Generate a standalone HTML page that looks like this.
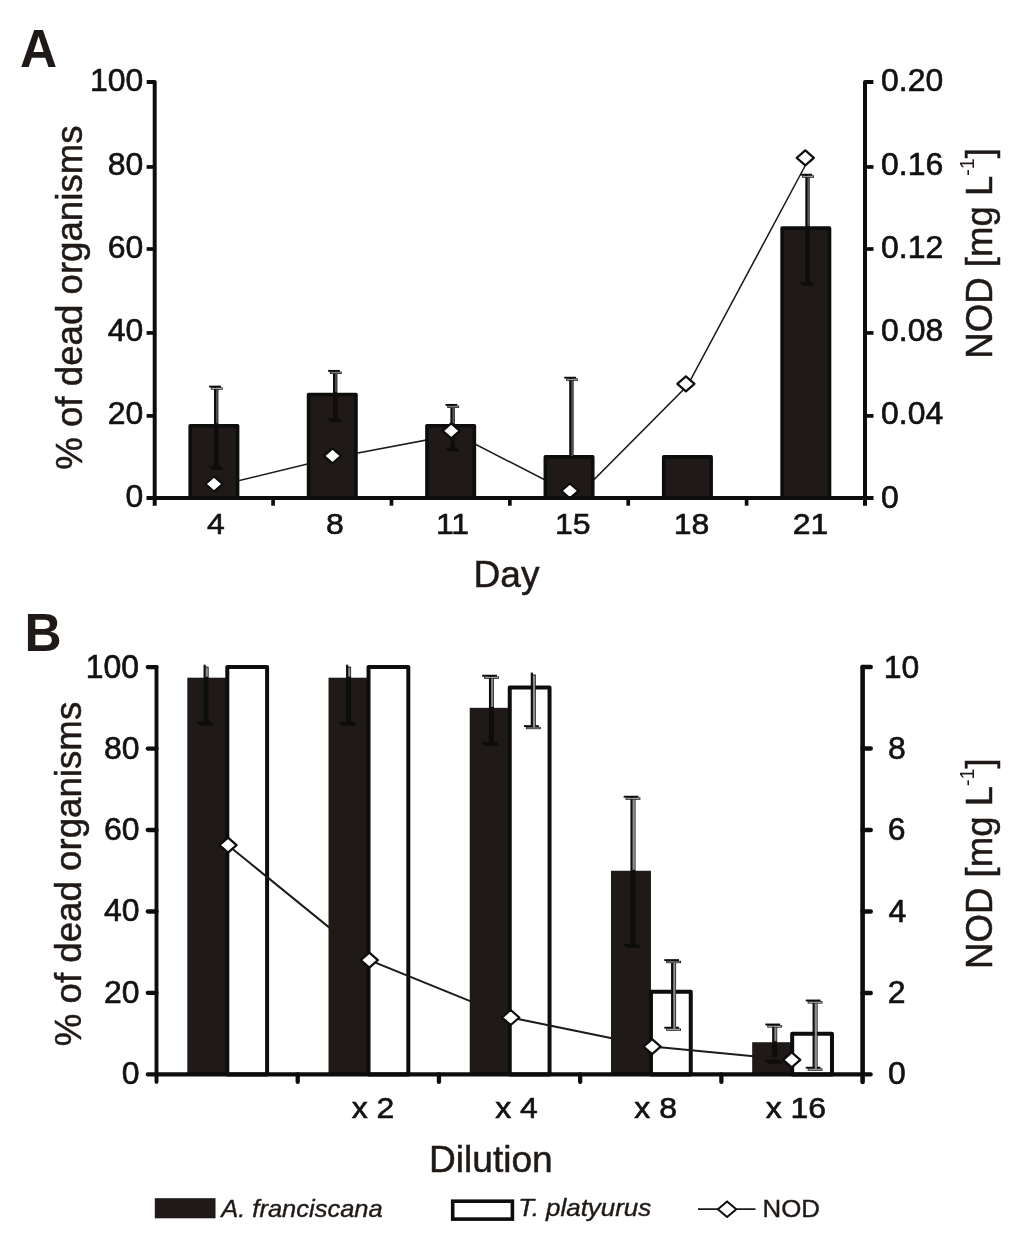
<!DOCTYPE html>
<html lang="en"><head><meta charset="utf-8"><title>Figure: mortality and NOD concentration</title>
<style>
html,body{margin:0;padding:0;background:#fff;}
body{width:1024px;height:1243px;overflow:hidden;font-family:'Liberation Sans', sans-serif;}
#fig{position:absolute;left:0;top:0;width:1024px;height:1243px;will-change:transform;}
svg{display:block;font-family:'Liberation Sans', sans-serif;}
text{white-space:pre;}
</style></head>
<body>
<div id="fig">
<svg width="1024" height="1243" viewBox="0 0 1024 1243" role="img" aria-label="Bar charts of percent dead organisms with NOD concentration line">
<polyline points="215.6,486.3 334.1,457.5 456.2,434.4 577.2,496.5 687.5,385.6 806.9,162.5" fill="none" stroke="#1f1a17" stroke-width="1.55"/>
<rect x="190.19" y="425.72" width="47.4" height="72.28" fill="#1f1a17" stroke="#0d0d0e" stroke-width="3.6" stroke-linejoin="round"/>
<rect x="308.57" y="394.52" width="47.4" height="103.48" fill="#1f1a17" stroke="#0d0d0e" stroke-width="3.6" stroke-linejoin="round"/>
<rect x="426.96" y="425.72" width="47.4" height="72.28" fill="#1f1a17" stroke="#0d0d0e" stroke-width="3.6" stroke-linejoin="round"/>
<rect x="545.34" y="456.91" width="47.4" height="41.09" fill="#1f1a17" stroke="#0d0d0e" stroke-width="3.6" stroke-linejoin="round"/>
<rect x="663.72" y="456.91" width="47.4" height="41.09" fill="#1f1a17" stroke="#0d0d0e" stroke-width="3.6" stroke-linejoin="round"/>
<rect x="782.11" y="228.17" width="47.4" height="269.83" fill="#1f1a17" stroke="#0d0d0e" stroke-width="3.6" stroke-linejoin="round"/>
<line x1="215.05" y1="386.60" x2="215.05" y2="466.70" stroke="#0d0d0e" stroke-width="2.1" stroke-linecap="butt"/>
<line x1="217.05" y1="388.50" x2="217.05" y2="468.60" stroke="#0d0d0e" stroke-width="2.7" stroke-linecap="butt"/>
<line x1="209.10" y1="386.60" x2="220.90" y2="386.60" stroke="#0d0d0e" stroke-width="1.9" stroke-linecap="butt"/>
<line x1="210.90" y1="388.50" x2="222.70" y2="388.50" stroke="#0d0d0e" stroke-width="2.3" stroke-linecap="butt"/>
<line x1="209.10" y1="466.70" x2="220.90" y2="466.70" stroke="#0d0d0e" stroke-width="1.9" stroke-linecap="butt"/>
<line x1="210.90" y1="468.60" x2="222.70" y2="468.60" stroke="#0d0d0e" stroke-width="2.3" stroke-linecap="butt"/>
<line x1="216.93" y1="389.40" x2="216.93" y2="423.22" stroke="#5e5e5e" stroke-width="1.5" stroke-linecap="butt"/>
<line x1="211.70" y1="388.50" x2="221.90" y2="388.50" stroke="#bdbdbd" stroke-width="0.9" stroke-linecap="butt"/>
<line x1="334.05" y1="370.90" x2="334.05" y2="419.10" stroke="#0d0d0e" stroke-width="2.1" stroke-linecap="butt"/>
<line x1="336.05" y1="372.80" x2="336.05" y2="421.00" stroke="#0d0d0e" stroke-width="2.7" stroke-linecap="butt"/>
<line x1="328.10" y1="370.90" x2="339.90" y2="370.90" stroke="#0d0d0e" stroke-width="1.9" stroke-linecap="butt"/>
<line x1="329.90" y1="372.80" x2="341.70" y2="372.80" stroke="#0d0d0e" stroke-width="2.3" stroke-linecap="butt"/>
<line x1="328.10" y1="419.10" x2="339.90" y2="419.10" stroke="#0d0d0e" stroke-width="1.9" stroke-linecap="butt"/>
<line x1="329.90" y1="421.00" x2="341.70" y2="421.00" stroke="#0d0d0e" stroke-width="2.3" stroke-linecap="butt"/>
<line x1="335.93" y1="373.70" x2="335.93" y2="392.02" stroke="#5e5e5e" stroke-width="1.5" stroke-linecap="butt"/>
<line x1="330.70" y1="372.80" x2="340.90" y2="372.80" stroke="#bdbdbd" stroke-width="0.9" stroke-linecap="butt"/>
<line x1="451.45" y1="404.90" x2="451.45" y2="448.30" stroke="#0d0d0e" stroke-width="2.1" stroke-linecap="butt"/>
<line x1="453.45" y1="406.80" x2="453.45" y2="450.20" stroke="#0d0d0e" stroke-width="2.7" stroke-linecap="butt"/>
<line x1="445.50" y1="404.90" x2="457.30" y2="404.90" stroke="#0d0d0e" stroke-width="1.9" stroke-linecap="butt"/>
<line x1="447.30" y1="406.80" x2="459.10" y2="406.80" stroke="#0d0d0e" stroke-width="2.3" stroke-linecap="butt"/>
<line x1="445.50" y1="448.30" x2="457.30" y2="448.30" stroke="#0d0d0e" stroke-width="1.9" stroke-linecap="butt"/>
<line x1="447.30" y1="450.20" x2="459.10" y2="450.20" stroke="#0d0d0e" stroke-width="2.3" stroke-linecap="butt"/>
<line x1="453.33" y1="407.70" x2="453.33" y2="423.22" stroke="#5e5e5e" stroke-width="1.5" stroke-linecap="butt"/>
<line x1="448.10" y1="406.80" x2="458.30" y2="406.80" stroke="#bdbdbd" stroke-width="0.9" stroke-linecap="butt"/>
<line x1="570.25" y1="377.70" x2="570.25" y2="456.01" stroke="#0d0d0e" stroke-width="2.1" stroke-linecap="butt"/>
<line x1="572.25" y1="379.60" x2="572.25" y2="457.91" stroke="#0d0d0e" stroke-width="2.7" stroke-linecap="butt"/>
<line x1="564.30" y1="377.70" x2="576.10" y2="377.70" stroke="#0d0d0e" stroke-width="1.9" stroke-linecap="butt"/>
<line x1="566.10" y1="379.60" x2="577.90" y2="379.60" stroke="#0d0d0e" stroke-width="2.3" stroke-linecap="butt"/>
<line x1="572.13" y1="380.50" x2="572.13" y2="455.91" stroke="#5e5e5e" stroke-width="1.5" stroke-linecap="butt"/>
<line x1="566.90" y1="379.60" x2="577.10" y2="379.60" stroke="#bdbdbd" stroke-width="0.9" stroke-linecap="butt"/>
<line x1="806.35" y1="174.70" x2="806.35" y2="282.70" stroke="#0d0d0e" stroke-width="2.1" stroke-linecap="butt"/>
<line x1="808.35" y1="176.60" x2="808.35" y2="284.60" stroke="#0d0d0e" stroke-width="2.7" stroke-linecap="butt"/>
<line x1="800.40" y1="174.70" x2="812.20" y2="174.70" stroke="#0d0d0e" stroke-width="1.9" stroke-linecap="butt"/>
<line x1="802.20" y1="176.60" x2="814.00" y2="176.60" stroke="#0d0d0e" stroke-width="2.3" stroke-linecap="butt"/>
<line x1="800.40" y1="282.70" x2="812.20" y2="282.70" stroke="#0d0d0e" stroke-width="1.9" stroke-linecap="butt"/>
<line x1="802.20" y1="284.60" x2="814.00" y2="284.60" stroke="#0d0d0e" stroke-width="2.3" stroke-linecap="butt"/>
<line x1="808.23" y1="177.50" x2="808.23" y2="225.67" stroke="#5e5e5e" stroke-width="1.5" stroke-linecap="butt"/>
<line x1="803.00" y1="176.60" x2="813.20" y2="176.60" stroke="#bdbdbd" stroke-width="0.9" stroke-linecap="butt"/>
<path d="M205.40,484.00 L214.00,476.50 L222.60,484.00 L214.00,491.50 Z" fill="#fff" stroke="#0d0d0e" stroke-width="2.2" stroke-linejoin="round"/>
<path d="M323.90,455.80 L332.50,448.30 L341.10,455.80 L332.50,463.30 Z" fill="#fff" stroke="#0d0d0e" stroke-width="2.2" stroke-linejoin="round"/>
<path d="M442.60,430.80 L451.20,423.30 L459.80,430.80 L451.20,438.30 Z" fill="#fff" stroke="#0d0d0e" stroke-width="2.2" stroke-linejoin="round"/>
<path d="M561.25,490.90 L569.85,483.40 L578.45,490.90 L569.85,498.40 Z" fill="#fff" stroke="#0d0d0e" stroke-width="2.2" stroke-linejoin="round"/>
<path d="M677.30,383.90 L685.90,376.40 L694.50,383.90 L685.90,391.40 Z" fill="#fff" stroke="#0d0d0e" stroke-width="2.2" stroke-linejoin="round"/>
<path d="M796.70,157.80 L805.30,150.30 L813.90,157.80 L805.30,165.30 Z" fill="#fff" stroke="#0d0d0e" stroke-width="2.2" stroke-linejoin="round"/>
<path d="M146.70,82.1 L154.7,82.1 L154.7,505.7" fill="none" stroke="#0d0d0e" stroke-width="4.0" stroke-linejoin="round"/>
<path d="M873.40,82.1 L865.0,82.1 L865.0,505.7" fill="none" stroke="#0d0d0e" stroke-width="4.0" stroke-linejoin="round"/>
<line x1="146.50" y1="498.00" x2="873.50" y2="498.00" stroke="#0d0d0e" stroke-width="3.8" stroke-linecap="butt"/>
<line x1="146.60" y1="415.90" x2="154.70" y2="415.90" stroke="#0d0d0e" stroke-width="3.7" stroke-linecap="butt"/>
<line x1="865.00" y1="415.90" x2="873.50" y2="415.90" stroke="#0d0d0e" stroke-width="3.7" stroke-linecap="butt"/>
<line x1="146.60" y1="332.94" x2="154.70" y2="332.94" stroke="#0d0d0e" stroke-width="3.7" stroke-linecap="butt"/>
<line x1="865.00" y1="332.94" x2="873.50" y2="332.94" stroke="#0d0d0e" stroke-width="3.7" stroke-linecap="butt"/>
<line x1="146.60" y1="249.00" x2="154.70" y2="249.00" stroke="#0d0d0e" stroke-width="3.7" stroke-linecap="butt"/>
<line x1="865.00" y1="249.00" x2="873.50" y2="249.00" stroke="#0d0d0e" stroke-width="3.7" stroke-linecap="butt"/>
<line x1="146.60" y1="166.95" x2="154.70" y2="166.95" stroke="#0d0d0e" stroke-width="3.7" stroke-linecap="butt"/>
<line x1="865.00" y1="166.95" x2="873.50" y2="166.95" stroke="#0d0d0e" stroke-width="3.7" stroke-linecap="butt"/>
<line x1="273.08" y1="498.00" x2="273.08" y2="505.70" stroke="#0d0d0e" stroke-width="3.7" stroke-linecap="butt"/>
<line x1="391.47" y1="498.00" x2="391.47" y2="505.70" stroke="#0d0d0e" stroke-width="3.7" stroke-linecap="butt"/>
<line x1="509.85" y1="498.00" x2="509.85" y2="505.70" stroke="#0d0d0e" stroke-width="3.7" stroke-linecap="butt"/>
<line x1="628.23" y1="498.00" x2="628.23" y2="505.70" stroke="#0d0d0e" stroke-width="3.7" stroke-linecap="butt"/>
<line x1="746.62" y1="498.00" x2="746.62" y2="505.70" stroke="#0d0d0e" stroke-width="3.7" stroke-linecap="butt"/>
<text transform="translate(90.01,91.40) scale(1.0800,1.0500)" font-size="29.6" font-weight="normal" font-style="normal" fill="#121214" stroke="#121214" stroke-width="0.6">100</text>
<text transform="translate(107.79,174.60) scale(1.0800,1.0500)" font-size="29.6" font-weight="normal" font-style="normal" fill="#121214" stroke="#121214" stroke-width="0.6">80</text>
<text transform="translate(107.79,257.80) scale(1.0800,1.0500)" font-size="29.6" font-weight="normal" font-style="normal" fill="#121214" stroke="#121214" stroke-width="0.6">60</text>
<text transform="translate(107.79,341.00) scale(1.0800,1.0500)" font-size="29.6" font-weight="normal" font-style="normal" fill="#121214" stroke="#121214" stroke-width="0.6">40</text>
<text transform="translate(107.79,424.20) scale(1.0800,1.0500)" font-size="29.6" font-weight="normal" font-style="normal" fill="#121214" stroke="#121214" stroke-width="0.6">20</text>
<text transform="translate(125.57,507.40) scale(1.0800,1.0500)" font-size="29.6" font-weight="normal" font-style="normal" fill="#121214" stroke="#121214" stroke-width="0.6">0</text>
<text transform="translate(881.05,91.20) scale(1.0800,1.0500)" font-size="29.6" font-weight="normal" font-style="normal" fill="#121214" stroke="#121214" stroke-width="0.6">0.20</text>
<text transform="translate(881.05,174.50) scale(1.0800,1.0500)" font-size="29.6" font-weight="normal" font-style="normal" fill="#121214" stroke="#121214" stroke-width="0.6">0.16</text>
<text transform="translate(881.05,257.80) scale(1.0800,1.0500)" font-size="29.6" font-weight="normal" font-style="normal" fill="#121214" stroke="#121214" stroke-width="0.6">0.12</text>
<text transform="translate(881.05,341.10) scale(1.0800,1.0500)" font-size="29.6" font-weight="normal" font-style="normal" fill="#121214" stroke="#121214" stroke-width="0.6">0.08</text>
<text transform="translate(881.05,424.40) scale(1.0800,1.0500)" font-size="29.6" font-weight="normal" font-style="normal" fill="#121214" stroke="#121214" stroke-width="0.6">0.04</text>
<text transform="translate(881.05,507.70) scale(1.0800,1.0500)" font-size="29.6" font-weight="normal" font-style="normal" fill="#121214" stroke="#121214" stroke-width="0.6">0</text>
<text transform="translate(207.01,534.00) scale(1.0800,0.9900)" font-size="29.6" font-weight="normal" font-style="normal" fill="#121214" stroke="#121214" stroke-width="0.6">4</text>
<text transform="translate(325.93,534.00) scale(1.0800,0.9900)" font-size="29.6" font-weight="normal" font-style="normal" fill="#121214" stroke="#121214" stroke-width="0.6">8</text>
<text transform="translate(435.96,534.00) scale(1.0800,0.9900)" font-size="29.6" font-weight="normal" font-style="normal" fill="#121214" stroke="#121214" stroke-width="0.6">11</text>
<text transform="translate(554.88,534.00) scale(1.0800,0.9900)" font-size="29.6" font-weight="normal" font-style="normal" fill="#121214" stroke="#121214" stroke-width="0.6">15</text>
<text transform="translate(673.80,534.00) scale(1.0800,0.9900)" font-size="29.6" font-weight="normal" font-style="normal" fill="#121214" stroke="#121214" stroke-width="0.6">18</text>
<text transform="translate(792.72,534.00) scale(1.0800,0.9900)" font-size="29.6" font-weight="normal" font-style="normal" fill="#121214" stroke="#121214" stroke-width="0.6">21</text>
<text transform="translate(473.55,586.90) scale(0.9900,1.0000)" font-size="37.5" font-weight="normal" font-style="normal" fill="#1f1a17" stroke="#1f1a17" stroke-width="0.5">Day</text>
<text transform="translate(81.70,469.81) rotate(-90) scale(0.9780,1.0000)" font-size="37.5" font-weight="normal" font-style="normal" fill="#1f1a17" stroke="#1f1a17" stroke-width="0.5">% of dead organisms</text>
<text transform="translate(991.80,358.70) rotate(-90) scale(0.9760,1.0000)" font-size="37.5" font-weight="normal" font-style="normal" fill="#1f1a17" stroke="#1f1a17" stroke-width="0.5">NOD [mg L<tspan font-size="20" dy="-17.5" stroke="none">-1</tspan><tspan dy="17.5">]</tspan></text>
<text transform="translate(20.02,66.70) scale(0.9700,1.0000)" font-size="53" font-weight="bold" font-style="normal" fill="#1f1a17">A</text>
<rect x="187.30" y="677.69" width="40" height="396.71" fill="#1f1a17"/>
<rect x="227.30" y="667.10" width="39.8" height="407.30" fill="#fff" stroke="#0d0d0e" stroke-width="4.0" stroke-linejoin="round"/>
<rect x="328.52" y="677.69" width="40" height="396.71" fill="#1f1a17"/>
<rect x="368.52" y="667.10" width="39.8" height="407.30" fill="#fff" stroke="#0d0d0e" stroke-width="4.0" stroke-linejoin="round"/>
<rect x="469.74" y="707.83" width="40" height="366.57" fill="#1f1a17"/>
<rect x="509.74" y="687.47" width="39.8" height="386.94" fill="#fff" stroke="#0d0d0e" stroke-width="4.0" stroke-linejoin="round"/>
<rect x="610.96" y="870.75" width="40" height="203.65" fill="#1f1a17"/>
<rect x="650.96" y="991.72" width="39.8" height="82.68" fill="#fff" stroke="#0d0d0e" stroke-width="4.0" stroke-linejoin="round"/>
<rect x="752.18" y="1042.22" width="40" height="32.18" fill="#1f1a17"/>
<rect x="792.18" y="1033.67" width="39.8" height="40.73" fill="#fff" stroke="#0d0d0e" stroke-width="4.0" stroke-linejoin="round"/>
<line x1="204.65" y1="664.70" x2="204.65" y2="722.50" stroke="#0d0d0e" stroke-width="2.2" stroke-linecap="butt"/>
<line x1="207.00" y1="666.60" x2="207.00" y2="724.40" stroke="#0d0d0e" stroke-width="3.2" stroke-linecap="butt"/>
<line x1="196.75" y1="722.50" x2="211.55" y2="722.50" stroke="#0d0d0e" stroke-width="1.9" stroke-linecap="butt"/>
<line x1="198.70" y1="724.40" x2="213.50" y2="724.40" stroke="#0d0d0e" stroke-width="2.3" stroke-linecap="butt"/>
<line x1="206.85" y1="667.50" x2="206.85" y2="676.69" stroke="#8c8c8c" stroke-width="2.2" stroke-linecap="butt"/>
<line x1="347.15" y1="664.70" x2="347.15" y2="722.70" stroke="#0d0d0e" stroke-width="2.2" stroke-linecap="butt"/>
<line x1="349.50" y1="666.60" x2="349.50" y2="724.60" stroke="#0d0d0e" stroke-width="3.2" stroke-linecap="butt"/>
<line x1="339.25" y1="722.70" x2="354.05" y2="722.70" stroke="#0d0d0e" stroke-width="1.9" stroke-linecap="butt"/>
<line x1="341.20" y1="724.60" x2="356.00" y2="724.60" stroke="#0d0d0e" stroke-width="2.3" stroke-linecap="butt"/>
<line x1="349.35" y1="667.50" x2="349.35" y2="676.69" stroke="#8c8c8c" stroke-width="2.2" stroke-linecap="butt"/>
<line x1="490.05" y1="675.70" x2="490.05" y2="742.90" stroke="#0d0d0e" stroke-width="2.2" stroke-linecap="butt"/>
<line x1="492.40" y1="677.60" x2="492.40" y2="744.80" stroke="#0d0d0e" stroke-width="3.2" stroke-linecap="butt"/>
<line x1="482.15" y1="675.70" x2="496.95" y2="675.70" stroke="#0d0d0e" stroke-width="1.9" stroke-linecap="butt"/>
<line x1="484.10" y1="677.60" x2="498.90" y2="677.60" stroke="#0d0d0e" stroke-width="2.3" stroke-linecap="butt"/>
<line x1="482.15" y1="742.90" x2="496.95" y2="742.90" stroke="#0d0d0e" stroke-width="1.9" stroke-linecap="butt"/>
<line x1="484.10" y1="744.80" x2="498.90" y2="744.80" stroke="#0d0d0e" stroke-width="2.3" stroke-linecap="butt"/>
<line x1="492.25" y1="678.50" x2="492.25" y2="706.83" stroke="#8c8c8c" stroke-width="2.2" stroke-linecap="butt"/>
<line x1="484.90" y1="677.60" x2="498.10" y2="677.60" stroke="#bdbdbd" stroke-width="0.9" stroke-linecap="butt"/>
<line x1="631.55" y1="796.70" x2="631.55" y2="944.70" stroke="#0d0d0e" stroke-width="2.2" stroke-linecap="butt"/>
<line x1="633.90" y1="798.60" x2="633.90" y2="946.60" stroke="#0d0d0e" stroke-width="3.2" stroke-linecap="butt"/>
<line x1="623.65" y1="796.70" x2="638.45" y2="796.70" stroke="#0d0d0e" stroke-width="1.9" stroke-linecap="butt"/>
<line x1="625.60" y1="798.60" x2="640.40" y2="798.60" stroke="#0d0d0e" stroke-width="2.3" stroke-linecap="butt"/>
<line x1="623.65" y1="944.70" x2="638.45" y2="944.70" stroke="#0d0d0e" stroke-width="1.9" stroke-linecap="butt"/>
<line x1="625.60" y1="946.60" x2="640.40" y2="946.60" stroke="#0d0d0e" stroke-width="2.3" stroke-linecap="butt"/>
<line x1="633.75" y1="799.50" x2="633.75" y2="869.75" stroke="#8c8c8c" stroke-width="2.2" stroke-linecap="butt"/>
<line x1="626.40" y1="798.60" x2="639.60" y2="798.60" stroke="#bdbdbd" stroke-width="0.9" stroke-linecap="butt"/>
<line x1="773.25" y1="1024.50" x2="773.25" y2="1060.70" stroke="#0d0d0e" stroke-width="2.2" stroke-linecap="butt"/>
<line x1="775.60" y1="1026.40" x2="775.60" y2="1062.60" stroke="#0d0d0e" stroke-width="3.2" stroke-linecap="butt"/>
<line x1="765.35" y1="1024.50" x2="780.15" y2="1024.50" stroke="#0d0d0e" stroke-width="1.9" stroke-linecap="butt"/>
<line x1="767.30" y1="1026.40" x2="782.10" y2="1026.40" stroke="#0d0d0e" stroke-width="2.3" stroke-linecap="butt"/>
<line x1="765.35" y1="1060.70" x2="780.15" y2="1060.70" stroke="#0d0d0e" stroke-width="1.9" stroke-linecap="butt"/>
<line x1="767.30" y1="1062.60" x2="782.10" y2="1062.60" stroke="#0d0d0e" stroke-width="2.3" stroke-linecap="butt"/>
<line x1="775.45" y1="1027.30" x2="775.45" y2="1041.22" stroke="#8c8c8c" stroke-width="2.2" stroke-linecap="butt"/>
<line x1="768.10" y1="1026.40" x2="781.30" y2="1026.40" stroke="#bdbdbd" stroke-width="0.9" stroke-linecap="butt"/>
<line x1="531.85" y1="672.60" x2="531.85" y2="726.10" stroke="#0d0d0e" stroke-width="2.2" stroke-linecap="butt"/>
<line x1="534.20" y1="674.50" x2="534.20" y2="728.00" stroke="#0d0d0e" stroke-width="3.2" stroke-linecap="butt"/>
<line x1="523.95" y1="726.10" x2="538.75" y2="726.10" stroke="#0d0d0e" stroke-width="1.9" stroke-linecap="butt"/>
<line x1="525.90" y1="728.00" x2="540.70" y2="728.00" stroke="#0d0d0e" stroke-width="2.3" stroke-linecap="butt"/>
<line x1="534.05" y1="675.40" x2="534.05" y2="727.00" stroke="#8c8c8c" stroke-width="2.2" stroke-linecap="butt"/>
<line x1="526.70" y1="728.00" x2="539.90" y2="728.00" stroke="#bdbdbd" stroke-width="0.9" stroke-linecap="butt"/>
<line x1="534.05" y1="726.50" x2="534.05" y2="727.60" stroke="#8c8c8c" stroke-width="2.2" stroke-linecap="butt"/>
<line x1="672.15" y1="960.10" x2="672.15" y2="1027.70" stroke="#0d0d0e" stroke-width="2.2" stroke-linecap="butt"/>
<line x1="674.50" y1="962.00" x2="674.50" y2="1029.60" stroke="#0d0d0e" stroke-width="3.2" stroke-linecap="butt"/>
<line x1="664.25" y1="960.10" x2="679.05" y2="960.10" stroke="#0d0d0e" stroke-width="1.9" stroke-linecap="butt"/>
<line x1="666.20" y1="962.00" x2="681.00" y2="962.00" stroke="#0d0d0e" stroke-width="2.3" stroke-linecap="butt"/>
<line x1="664.25" y1="1027.70" x2="679.05" y2="1027.70" stroke="#0d0d0e" stroke-width="1.9" stroke-linecap="butt"/>
<line x1="666.20" y1="1029.60" x2="681.00" y2="1029.60" stroke="#0d0d0e" stroke-width="2.3" stroke-linecap="butt"/>
<line x1="674.35" y1="962.90" x2="674.35" y2="1028.60" stroke="#8c8c8c" stroke-width="2.2" stroke-linecap="butt"/>
<line x1="667.00" y1="962.00" x2="680.20" y2="962.00" stroke="#bdbdbd" stroke-width="0.9" stroke-linecap="butt"/>
<line x1="667.00" y1="1029.60" x2="680.20" y2="1029.60" stroke="#bdbdbd" stroke-width="0.9" stroke-linecap="butt"/>
<line x1="674.35" y1="1028.10" x2="674.35" y2="1029.20" stroke="#8c8c8c" stroke-width="2.2" stroke-linecap="butt"/>
<line x1="813.65" y1="1000.50" x2="813.65" y2="1067.70" stroke="#0d0d0e" stroke-width="2.2" stroke-linecap="butt"/>
<line x1="816.00" y1="1002.40" x2="816.00" y2="1069.60" stroke="#0d0d0e" stroke-width="3.2" stroke-linecap="butt"/>
<line x1="805.75" y1="1000.50" x2="820.55" y2="1000.50" stroke="#0d0d0e" stroke-width="1.9" stroke-linecap="butt"/>
<line x1="807.70" y1="1002.40" x2="822.50" y2="1002.40" stroke="#0d0d0e" stroke-width="2.3" stroke-linecap="butt"/>
<line x1="805.75" y1="1067.70" x2="820.55" y2="1067.70" stroke="#0d0d0e" stroke-width="1.9" stroke-linecap="butt"/>
<line x1="807.70" y1="1069.60" x2="822.50" y2="1069.60" stroke="#0d0d0e" stroke-width="2.3" stroke-linecap="butt"/>
<line x1="815.85" y1="1003.30" x2="815.85" y2="1068.60" stroke="#8c8c8c" stroke-width="2.2" stroke-linecap="butt"/>
<line x1="808.50" y1="1002.40" x2="821.70" y2="1002.40" stroke="#bdbdbd" stroke-width="0.9" stroke-linecap="butt"/>
<line x1="808.50" y1="1069.60" x2="821.70" y2="1069.60" stroke="#bdbdbd" stroke-width="0.9" stroke-linecap="butt"/>
<line x1="815.85" y1="1068.10" x2="815.85" y2="1069.20" stroke="#8c8c8c" stroke-width="2.2" stroke-linecap="butt"/>
<polyline points="228.0,845.2 369.3,960.1 510.7,1017.5 652.1,1046.6 791.7,1059.8" fill="none" stroke="#1f1a17" stroke-width="2"/>
<path d="M219.40,845.20 L228.00,837.70 L236.60,845.20 L228.00,852.70 Z" fill="#fff" stroke="#0d0d0e" stroke-width="2.2" stroke-linejoin="round"/>
<path d="M360.70,960.10 L369.30,952.60 L377.90,960.10 L369.30,967.60 Z" fill="#fff" stroke="#0d0d0e" stroke-width="2.2" stroke-linejoin="round"/>
<path d="M502.10,1017.50 L510.70,1010.00 L519.30,1017.50 L510.70,1025.00 Z" fill="#fff" stroke="#0d0d0e" stroke-width="2.2" stroke-linejoin="round"/>
<path d="M643.50,1046.60 L652.10,1039.10 L660.70,1046.60 L652.10,1054.10 Z" fill="#fff" stroke="#0d0d0e" stroke-width="2.2" stroke-linejoin="round"/>
<path d="M783.10,1059.80 L791.70,1052.30 L800.30,1059.80 L791.70,1067.30 Z" fill="#fff" stroke="#0d0d0e" stroke-width="2.2" stroke-linejoin="round"/>
<line x1="156.50" y1="667.10" x2="156.50" y2="1081.90" stroke="#0d0d0e" stroke-width="3.9" stroke-linecap="round"/>
<line x1="862.60" y1="667.10" x2="862.60" y2="1081.90" stroke="#0d0d0e" stroke-width="4.6" stroke-linecap="round"/>
<line x1="147.80" y1="1074.40" x2="870.70" y2="1074.40" stroke="#0d0d0e" stroke-width="4.2" stroke-linecap="round"/>
<line x1="147.80" y1="992.94" x2="156.50" y2="992.94" stroke="#0d0d0e" stroke-width="4.3" stroke-linecap="round"/>
<line x1="862.60" y1="992.94" x2="870.70" y2="992.94" stroke="#0d0d0e" stroke-width="4.5" stroke-linecap="round"/>
<line x1="147.80" y1="911.48" x2="156.50" y2="911.48" stroke="#0d0d0e" stroke-width="4.3" stroke-linecap="round"/>
<line x1="862.60" y1="911.48" x2="870.70" y2="911.48" stroke="#0d0d0e" stroke-width="4.5" stroke-linecap="round"/>
<line x1="147.80" y1="830.02" x2="156.50" y2="830.02" stroke="#0d0d0e" stroke-width="4.3" stroke-linecap="round"/>
<line x1="862.60" y1="830.02" x2="870.70" y2="830.02" stroke="#0d0d0e" stroke-width="4.5" stroke-linecap="round"/>
<line x1="147.80" y1="748.56" x2="156.50" y2="748.56" stroke="#0d0d0e" stroke-width="4.3" stroke-linecap="round"/>
<line x1="862.60" y1="748.56" x2="870.70" y2="748.56" stroke="#0d0d0e" stroke-width="4.5" stroke-linecap="round"/>
<line x1="147.80" y1="667.10" x2="156.50" y2="667.10" stroke="#0d0d0e" stroke-width="4.3" stroke-linecap="round"/>
<line x1="862.60" y1="667.10" x2="870.70" y2="667.10" stroke="#0d0d0e" stroke-width="4.5" stroke-linecap="round"/>
<line x1="297.72" y1="1074.40" x2="297.72" y2="1081.90" stroke="#0d0d0e" stroke-width="4.3" stroke-linecap="round"/>
<line x1="438.94" y1="1074.40" x2="438.94" y2="1081.90" stroke="#0d0d0e" stroke-width="4.3" stroke-linecap="round"/>
<line x1="580.16" y1="1074.40" x2="580.16" y2="1081.90" stroke="#0d0d0e" stroke-width="4.3" stroke-linecap="round"/>
<line x1="721.38" y1="1074.40" x2="721.38" y2="1081.90" stroke="#0d0d0e" stroke-width="4.3" stroke-linecap="round"/>
<text transform="translate(85.81,678.00) scale(1.0800,1.1000)" font-size="29.6" font-weight="normal" font-style="normal" fill="#121214" stroke="#121214" stroke-width="0.6">100</text>
<text transform="translate(103.89,758.80) scale(1.0800,1.0500)" font-size="29.6" font-weight="normal" font-style="normal" fill="#121214" stroke="#121214" stroke-width="0.6">80</text>
<text transform="translate(103.89,840.10) scale(1.0800,1.0500)" font-size="29.6" font-weight="normal" font-style="normal" fill="#121214" stroke="#121214" stroke-width="0.6">60</text>
<text transform="translate(103.89,921.40) scale(1.0800,1.0500)" font-size="29.6" font-weight="normal" font-style="normal" fill="#121214" stroke="#121214" stroke-width="0.6">40</text>
<text transform="translate(103.89,1002.70) scale(1.0800,1.0500)" font-size="29.6" font-weight="normal" font-style="normal" fill="#121214" stroke="#121214" stroke-width="0.6">20</text>
<text transform="translate(121.67,1084.00) scale(1.0800,1.0500)" font-size="29.6" font-weight="normal" font-style="normal" fill="#121214" stroke="#121214" stroke-width="0.6">0</text>
<text transform="translate(883.69,678.00) scale(1.0800,1.0500)" font-size="29.6" font-weight="normal" font-style="normal" fill="#121214" stroke="#121214" stroke-width="0.6">10</text>
<text transform="translate(887.91,758.90) scale(1.0800,1.0500)" font-size="29.6" font-weight="normal" font-style="normal" fill="#121214" stroke="#121214" stroke-width="0.6">8</text>
<text transform="translate(887.68,840.20) scale(1.0800,1.0500)" font-size="29.6" font-weight="normal" font-style="normal" fill="#121214" stroke="#121214" stroke-width="0.6">6</text>
<text transform="translate(888.57,921.50) scale(1.0800,1.0500)" font-size="29.6" font-weight="normal" font-style="normal" fill="#121214" stroke="#121214" stroke-width="0.6">4</text>
<text transform="translate(887.69,1002.80) scale(1.0800,1.0500)" font-size="29.6" font-weight="normal" font-style="normal" fill="#121214" stroke="#121214" stroke-width="0.6">2</text>
<text transform="translate(888.05,1084.10) scale(1.0800,1.0500)" font-size="29.6" font-weight="normal" font-style="normal" fill="#121214" stroke="#121214" stroke-width="0.6">0</text>
<text transform="translate(351.64,1118.40) scale(1.0800,0.9900)" font-size="29.6" font-weight="normal" font-style="normal" fill="#121214" stroke="#121214" stroke-width="0.6">x 2</text>
<text transform="translate(495.14,1118.40) scale(1.0800,0.9900)" font-size="29.6" font-weight="normal" font-style="normal" fill="#121214" stroke="#121214" stroke-width="0.6">x 4</text>
<text transform="translate(634.34,1118.30) scale(1.0800,0.9900)" font-size="29.6" font-weight="normal" font-style="normal" fill="#121214" stroke="#121214" stroke-width="0.6">x 8</text>
<text transform="translate(765.64,1117.50) scale(1.0800,0.9900)" font-size="29.6" font-weight="normal" font-style="normal" fill="#121214" stroke="#121214" stroke-width="0.6">x 16</text>
<text transform="translate(428.95,1172.20) scale(0.9900,1.0000)" font-size="37.5" font-weight="normal" font-style="normal" fill="#1f1a17" stroke="#1f1a17" stroke-width="0.5">Dilution</text>
<text transform="translate(81.00,1046.21) rotate(-90) scale(0.9780,1.0000)" font-size="37.5" font-weight="normal" font-style="normal" fill="#1f1a17" stroke="#1f1a17" stroke-width="0.5">% of dead organisms</text>
<text transform="translate(991.80,968.90) rotate(-90) scale(0.9760,1.0000)" font-size="37.5" font-weight="normal" font-style="normal" fill="#1f1a17" stroke="#1f1a17" stroke-width="0.5">NOD [mg L<tspan font-size="20" dy="-17.5" stroke="none">-1</tspan><tspan dy="17.5">]</tspan></text>
<text transform="translate(24.58,651.40) scale(0.9700,1.0000)" font-size="53" font-weight="bold" font-style="normal" fill="#1f1a17">B</text>
<rect x="154.8" y="1198.2" width="60.7" height="20.1" fill="#1f1a17"/>
<text transform="translate(221.16,1216.60) scale(1.0370,1.0000)" font-size="24.6" font-weight="normal" font-style="italic" fill="#1f1a17" stroke="#1f1a17" stroke-width="0.4">A. franciscana</text>
<rect x="452.7" y="1201.2" width="59.7" height="17.9" fill="#fff" stroke="#0d0d0e" stroke-width="3.6"/>
<text transform="translate(518.17,1216.30) scale(1.0550,1.0000)" font-size="24.6" font-weight="normal" font-style="italic" fill="#1f1a17" stroke="#1f1a17" stroke-width="0.4">T. platyurus</text>
<line x1="698.00" y1="1209.20" x2="755.50" y2="1209.20" stroke="#1f1a17" stroke-width="1.7" stroke-linecap="butt"/>
<path d="M717.90,1209.20 L727.10,1201.40 L736.30,1209.20 L727.10,1217.00 Z" fill="#fff" stroke="#0d0d0e" stroke-width="2.0" stroke-linejoin="round"/>
<text transform="translate(762.48,1216.80) scale(1.0600,1.0000)" font-size="24.4" font-weight="normal" font-style="normal" fill="#1f1a17" stroke="#1f1a17" stroke-width="0.4">NOD</text>
</svg>
</div>
</body></html>
